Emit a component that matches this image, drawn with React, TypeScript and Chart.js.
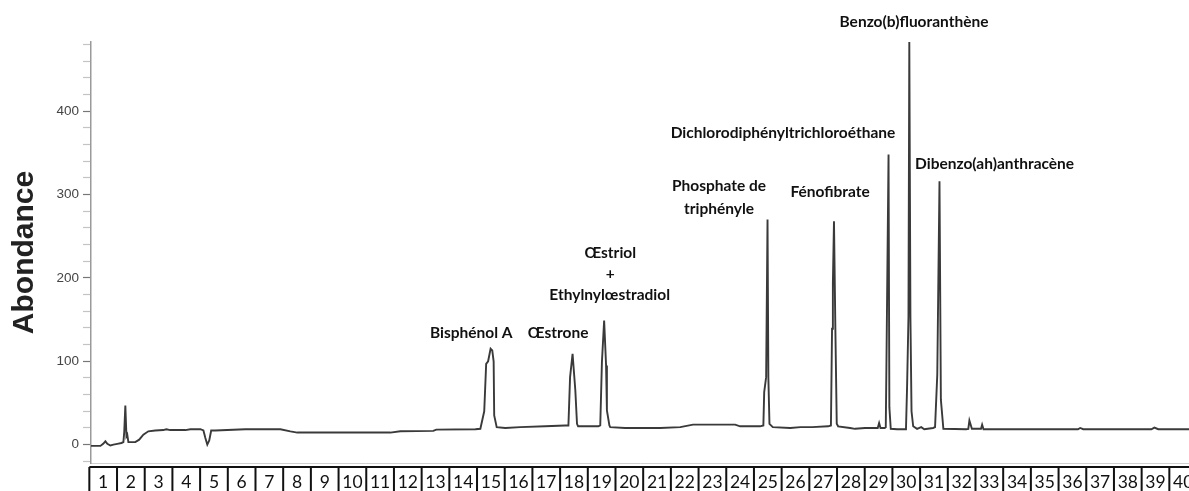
import React, { useEffect, useRef } from "react";
import { Chart, registerables } from "chart.js";

Chart.register(...registerables);

// Retention time expressed in box units (box n is centred on n)
const retentionTimes = [
  0.56, 0.9, 1.0, 1.08, 1.15, 1.26, 1.37, 1.51, 1.66, 1.73, 1.76, 1.8, 1.84, 1.87, 1.91,
  2.16, 2.3, 2.45, 2.63, 2.88, 3.17, 3.28, 3.42, 3.97, 4.15, 4.51, 4.62, 4.69, 4.76, 4.83,
  4.9, 5.05, 6.13, 7.4, 7.76, 8.01, 11.37, 11.73, 12.92, 13.03, 14.44, 14.62, 14.76, 14.83,
  14.9, 14.99, 15.05, 15.1, 15.12, 15.21, 15.52, 16.06, 16.96, 17.68, 17.8, 17.86, 17.95,
  18.05, 18.11, 18.15, 18.88, 18.95, 19.01, 19.09, 19.16, 19.19, 19.28, 19.31, 19.85,
  21.11, 21.84, 22.3, 23.82, 24.0, 24.72, 24.84, 24.87, 24.94, 24.99, 25.02, 25.06, 25.18,
  25.81, 26.18, 26.6, 27.18, 27.28, 27.32, 27.35, 27.39, 27.44, 27.49, 27.54, 27.97, 28.15,
  28.51, 28.88, 28.97, 29.02, 29.07, 29.22, 29.26, 29.28, 29.36, 29.39, 29.44, 29.67, 29.96,
  29.99, 30.03, 30.08, 30.11, 30.15, 30.19, 30.25, 30.39, 30.54, 30.65, 30.97, 31.04, 31.12,
  31.2, 31.25, 31.34, 32.16, 32.24, 32.28, 32.37, 32.7, 32.74, 32.79, 36.2, 36.28, 36.39,
  38.85, 38.96, 39.1, 40.21,
];

const abundances = [
  -1.5, -1.5, 1, 4, 1, -1, 0, 1, 2, 3, 15, 47, 10, 12, 3,
  3, 6, 12, 16, 17, 17.5, 18.5, 17.5, 17.5, 18.5, 18.5, 17, 8, 0, 5,
  17, 17, 18.5, 18.5, 16, 14.5, 14.5, 16, 16.5, 18, 18.5, 19, 40, 97,
  100, 115, 113, 100, 35, 21, 20, 21, 22, 23, 23, 81, 109,
  65, 25, 22, 22, 23, 99, 149, 95, 41, 23, 21, 20,
  20, 21, 24, 24, 22, 22, 23, 63, 81, 270, 81, 25, 21,
  20, 21, 21, 22, 23, 139, 193, 268, 139, 25, 22, 20, 19,
  20, 20, 20, 26, 20, 20, 21, 83, 348, 45, 19, 18.5, 18.5,
  19, 70, 154, 483, 154, 40, 22, 19, 21, 18.5, 20, 21, 84,
  316, 54, 19, 18.5, 19, 29, 19, 19, 24, 18.5, 18.5, 20, 18.5,
  18.5, 20.5, 18.5, 18.5,
];

const boxLabels = Array.from({ length: 40 }, (_, i) => String(i + 1));

const peakNames = [
  "Bisphénol A",
  "Œstrone",
  "Œstriol",
  "+",
  "Ethylnylœstradiol",
  "Phosphate de",
  "triphényle",
  "Dichlorodiphényltrichloroéthane",
  "Fénofibrate",
  "Benzo(b)fluoranthène",
  "Dibenzo(ah)anthracène",
];
const peakNameX = [14.29, 17.43, 19.31, 19.31, 19.29, 23.24, 23.24, 25.55, 27.25, 30.28, 33.19];
const peakNameY = [133.6, 133.6, 229.6, 204.4, 179.2, 310, 282.4, 373.6, 302.8, 506.8, 336.4];

const annotationPlugin = {
  id: "peakNames",
  afterDatasetsDraw(chart: any) {
    const { ctx, scales } = chart;
    const xs = scales.x;
    const ys = scales.y;
    ctx.save();
    ctx.font = "bold 15.5px Lato, 'Open Sans', sans-serif";
    ctx.fillStyle = "#111";
    ctx.textAlign = "center";
    ctx.textBaseline = "middle";
    peakNames.forEach((name, i) => {
      ctx.fillText(name, xs.getPixelForValue(peakNameX[i]), ys.getPixelForValue(peakNameY[i]));
    });
    ctx.restore();
  },
};

const boxAxisPlugin = {
  id: "boxAxis",
  afterDraw(chart: any) {
    const { ctx, scales, chartArea, height } = chart;
    const xs = scales.x;
    const top = chartArea.bottom + 4;
    ctx.save();
    ctx.strokeStyle = "#111";
    ctx.lineWidth = 2;
    ctx.beginPath();
    const left = xs.getPixelForValue(0.5);
    const right = xs.getPixelForValue(boxLabels.length + 0.5);
    ctx.moveTo(left, top);
    ctx.lineTo(right, top);
    for (let i = 0; i <= boxLabels.length; i++) {
      const px = xs.getPixelForValue(i + 0.5);
      ctx.moveTo(px, top);
      ctx.lineTo(px, height + 2);
    }
    ctx.stroke();
    ctx.font = "17.5px Lato, 'Open Sans', sans-serif";
    ctx.fillStyle = "#111";
    ctx.textAlign = "center";
    ctx.textBaseline = "middle";
    boxLabels.forEach((lab, i) => {
      ctx.fillText(lab, xs.getPixelForValue(i + 1), top + 15.5);
    });
    ctx.restore();
  },
};

export default function App() {
  const canvasRef = useRef<HTMLCanvasElement | null>(null);

  useEffect(() => {
    if (!canvasRef.current) return;
    const points = retentionTimes.map((x, i) => ({ x, y: abundances[i] }));
    const chart = new Chart(canvasRef.current, {
      type: "line",
      data: {
        datasets: [
          {
            data: points,
            borderColor: "#3a3a3a",
            borderWidth: 1.9,
            pointRadius: 0,
            tension: 0,
            fill: false,
          },
        ],
      },
      options: {
        animation: false,
        responsive: false,
        maintainAspectRatio: false,
        layout: { padding: { top: 42, right: 0, left: 0, bottom: 0 } },
        plugins: {
          legend: { display: false },
          tooltip: { enabled: false },
        },
        scales: {
          x: {
            type: "linear",
            min: 0.56,
            max: 40.21,
            grid: { display: false },
            ticks: { display: false },
            border: { display: true, color: "#d0d0d0", width: 1 },
            afterFit(scale: any) {
              scale.height = 28;
            },
          },
          y: {
            type: "linear",
            min: -22,
            max: 483,
            afterFit(scale: any) {
              scale.width = 91;
            },
            border: { display: true, color: "#9a9a9a", width: 1.5 },
            grid: {
              drawOnChartArea: false,
              drawTicks: true,
              tickLength: 8,
              tickColor: (ctx: any) =>
                ctx.tick && ctx.tick.value % 100 === 0 ? "#777" : "#c4c4c4",
              tickWidth: 1.2,
            },
            ticks: {
              stepSize: 20,
              includeBounds: false,
              autoSkip: false,
              padding: 4,
              color: "#444",
              font: { family: "'Liberation Sans', Arial, sans-serif", size: 13.5 },
              callback: (v: any) => (Number(v) % 100 === 0 ? String(v) : ""),
            },
            title: {
              display: true,
              text: "Abondance",
              color: "#222",
              font: { family: "'Liberation Sans', Arial, sans-serif", size: 30, weight: "bold" },
              padding: { top: 7, bottom: 0 },
            },
          },
        },
      },
      plugins: [annotationPlugin, boxAxisPlugin],
    });
    return () => chart.destroy();
  }, []);

  return (
    <div style={{ position: "absolute", left: 0, top: 0, width: 1189, height: 491, background: "#fff" }}>
      <canvas ref={canvasRef} width={1189} height={491} />
    </div>
  );
}
